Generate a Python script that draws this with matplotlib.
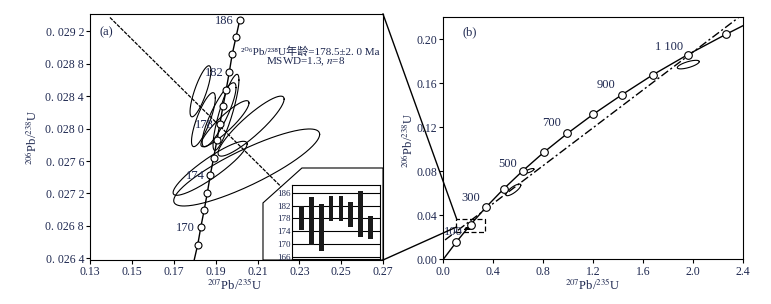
import numpy as np
import matplotlib
matplotlib.use("Agg")
from matplotlib import pyplot as plt
from matplotlib.patches import Polygon, Rectangle
from matplotlib.lines import Line2D

plt.rcParams['font.family'] = ['Liberation Serif', 'DejaVu Serif', 'Noto Sans CJK SC']
plt.rcParams['mathtext.fontset'] = 'stix'
TXT = '#1e2850'

# (a) concordia marks, 4/3 Ma apart
conc_a_x = [0.1814, 0.1829, 0.1845, 0.1860, 0.1874, 0.1890, 0.1906,
            0.1920, 0.1935, 0.1950, 0.1965, 0.1979, 0.1997, 0.2015]
conc_a_y = [0.02657, 0.02679, 0.02700, 0.02721, 0.02743, 0.02764, 0.02786,
            0.02806, 0.02828, 0.02848, 0.02870, 0.02892, 0.02913, 0.02934]
conc_a_start = [0.1797, 0.02638]
age_a_idx = [1, 4, 7, 10, 13]
age_a_txt = ['170', '174', '178', '182', '186']

# (a) analyses: ratio centres, half extents, correlation
ell_x = [0.1827, 0.1841, 0.1949, 0.1916, 0.1944, 0.2069, 0.1873, 0.2048]
ell_y = [0.02846, 0.02811, 0.02820, 0.02817, 0.02806, 0.02803, 0.02751, 0.02752]
ell_sx = [0.0050, 0.0057, 0.0062, 0.0081, 0.0115, 0.0158, 0.0177, 0.0349]
ell_sy = [0.000315, 0.000333, 0.000469, 0.000395, 0.000284, 0.000370, 0.000333, 0.000475]
ell_rho = [0.80, 0.80, 0.85, 0.85, 0.90, 0.90, 0.90, 0.86]

# discordia in (a)
disc_a_x = [0.1394, 0.2300]
disc_a_y = [0.02937, 0.02706]

# inset: 206Pb/238U ages (Ma)
bar_lo = [174.4, 169.9, 168.0, 177.3, 177.3, 175.4, 172.2, 171.5]
bar_hi = [182.0, 184.6, 182.5, 185.1, 185.1, 183.1, 186.6, 178.8]
inset_ticks = [166, 170, 174, 178, 182, 186]

a_xticks = [0.13, 0.15, 0.17, 0.19, 0.21, 0.23, 0.25, 0.27]
a_yticks = [0.0264, 0.0268, 0.0272, 0.0276, 0.0280, 0.0284, 0.0288, 0.0292]
a_ylabels = ['0. 026 4', '0. 026 8', '0. 027 2', '0. 027 6',
             '0. 028 0', '0. 028 4', '0. 028 8', '0. 029 2']

# (b) concordia 100..1200 Ma
conc_b_x = [0.1035, 0.2177, 0.3437, 0.4828, 0.6362, 0.8056,
            0.9925, 1.1988, 1.4264, 1.6776, 1.9548, 2.2608]
conc_b_y = [0.0156, 0.0315, 0.0476, 0.0640, 0.0805, 0.0974,
            0.1144, 0.1318, 0.1494, 0.1678, 0.1860, 0.2045]
conc_b_ends = [[0.0, 0.0], [2.4, 0.2125]]
age_b_idx = [0, 2, 4, 6, 8, 10]
age_b_txt = ['100', '300', '500', '700', '900', '1 100']

# other grains in (b)
bell_x = [0.56, 0.69, 1.96]
bell_y = [0.0631, 0.0805, 0.1770]
bell_sx = [0.060, 0.035, 0.088]
bell_sy = [0.0053, 0.0020, 0.0039]
bell_rho = [0.80, 0.70, 0.70]

disc_b_x = [0.014, 2.36]
disc_b_y = [0.0176, 0.2196]

b_xticks = [0.0, 0.4, 0.8, 1.2, 1.6, 2.0, 2.4]
b_yticks = [0.00, 0.04, 0.08, 0.12, 0.16, 0.20]


def ellipse(ax, x, y, sx, sy, rho, **kw):
    t = np.linspace(0, 2 * np.pi, 200)
    ex = x + sx * np.cos(t)
    ey = y + sy * (rho * np.cos(t) + np.sqrt(1 - rho ** 2) * np.sin(t))
    ax.plot(ex, ey, color='k', lw=0.8, **kw)


W, H = 771, 304
fig = plt.figure(figsize=(W / 100, H / 100), dpi=100)


def box(l, t, r, b):
    return [l / W, 1 - b / H, (r - l) / W, (b - t) / H]


# ---------- panel (a)
ax = fig.add_axes(box(90.3, 14, 383, 260))
ax.set_xlim(0.13, 0.27)
ax.set_ylim(0.026379, 0.029413)

for i in range(len(ell_x)):
    ellipse(ax, ell_x[i], ell_y[i], ell_sx[i], ell_sy[i], ell_rho[i], zorder=2)

ax.plot(disc_a_x, disc_a_y, color='k', lw=0.9, dashes=(3, 1), zorder=2)
ax.plot([conc_a_start[0]] + conc_a_x, [conc_a_start[1]] + conc_a_y, color='k', lw=1.0, zorder=3)
ax.plot(conc_a_x, conc_a_y, 'o', ms=5, mfc='white', mec='k', mew=0.8, zorder=4)
for i, s in zip(age_a_idx, age_a_txt):
    ax.annotate(s, (conc_a_x[i], conc_a_y[i]), xytext=(-6, -1), textcoords='offset pixels',
                ha='right', va='center', fontsize=9, color=TXT, zorder=4)

callout = Polygon([(0.590, 0), (0.590, 0.232), (0.723, 0.374), (1.0, 0.374), (1.0, 0)],
                  closed=True, transform=ax.transAxes, fc='white', ec='k', lw=0.8, zorder=5)
ax.add_patch(callout)

ax.text(0.033, 0.927, '(a)', transform=ax.transAxes, fontsize=9, color=TXT, va='center')
ax.text(0.751, 0.846, '²⁰⁶Pb/²³⁸U年龄=178.5±2. 0 Ma', transform=ax.transAxes,
        ha='center', va='center', fontsize=8, color=TXT)
ax.text(0.737, 0.804, 'MSWD=1.3, $n$=8', transform=ax.transAxes,
        ha='center', va='center', fontsize=8, color=TXT)

ax.set_xticks(a_xticks)
ax.set_xticklabels(['%.2f' % v for v in a_xticks])
ax.set_yticks(a_yticks)
ax.set_yticklabels(a_ylabels)
ax.tick_params(direction='out', length=3, width=0.8, pad=1.5, labelsize=8.5, labelcolor=TXT)
ax.text(0.494, -0.10, r'$^{207}$Pb/$^{235}$U', transform=ax.transAxes,
        ha='center', va='center', fontsize=9, color=TXT)
ax.text(-0.199, 0.50, r'$^{206}$Pb/$^{238}$U', transform=ax.transAxes, rotation=90,
        ha='center', va='center', fontsize=9, color=TXT)
for sp in ax.spines.values():
    sp.set_linewidth(0.8)

# ---------- inset
ins = fig.add_axes(box(292, 185, 380, 259))
ins.set_zorder(6)
ins.set_xlim(0, 9)
ins.set_ylim(165.4, 188.4)
for v in inset_ticks:
    ins.axhline(v, color='k', lw=0.8, zorder=1)
pos = np.arange(1, len(bar_lo) + 1)
ins.bar(pos, np.array(bar_hi) - np.array(bar_lo), bottom=bar_lo, width=0.48,
        color='#1a1a1a', zorder=2)
ins.set_xticks([])
ins.set_yticks(inset_ticks)
ins.set_yticklabels([str(v) for v in inset_ticks])
ins.tick_params(axis='y', length=0, pad=1, labelsize=6.5, labelcolor=TXT)
for sp in ins.spines.values():
    sp.set_linewidth(0.8)

# ---------- panel (b)
bx = fig.add_axes(box(443.3, 17.3, 743.3, 259.3))
bx.set_xlim(0, 2.4)
bx.set_ylim(0, 0.22)

lx = [conc_b_ends[0][0]] + conc_b_x + [conc_b_ends[1][0]]
ly = [conc_b_ends[0][1]] + conc_b_y + [conc_b_ends[1][1]]
bx.plot(lx, ly, color='k', lw=1.0, zorder=3)
bx.plot(disc_b_x, disc_b_y, color='k', lw=1.0, dashes=(6, 2, 1.5, 2), zorder=2)
for i in range(len(bell_x)):
    ellipse(bx, bell_x[i], bell_y[i], bell_sx[i], bell_sy[i], bell_rho[i], zorder=2)
for i in range(len(ell_x)):
    ellipse(bx, ell_x[i], ell_y[i], ell_sx[i], ell_sy[i], ell_rho[i], zorder=2)
bx.plot(conc_b_x, conc_b_y, 'o', ms=5.5, mfc='white', mec='k', mew=0.8, zorder=4)
offs = [(6, 4), (-6, 3), (-6, 1), (-6, 4), (-6, 4), (-5, 2)]
for (i, s), o in zip(zip(age_b_idx, age_b_txt), offs):
    bx.annotate(s, (conc_b_x[i], conc_b_y[i]), xytext=o, textcoords='offset pixels',
                ha='right', va='bottom', fontsize=9, color=TXT, zorder=5)

bx.add_patch(Rectangle((0.10, 0.0251), 0.234, 0.0113, fill=False, ec='k', lw=0.9,
                       ls=(0, (4, 2)), zorder=3))

bx.text(0.065, 0.938, '(b)', transform=bx.transAxes, fontsize=9, color=TXT, va='center')
bx.set_xticks(b_xticks)
bx.set_xticklabels(['%.1f' % v for v in b_xticks])
bx.set_yticks(b_yticks)
bx.set_yticklabels(['%.2f' % v for v in b_yticks])
bx.tick_params(direction='out', length=3, width=0.8, pad=1.5, labelsize=8.5, labelcolor=TXT)
bx.text(0.499, -0.106, r'$^{207}$Pb/$^{235}$U', transform=bx.transAxes,
        ha='center', va='center', fontsize=9, color=TXT)
bx.text(-0.118, 0.49, r'$^{206}$Pb/$^{238}$U', transform=bx.transAxes, rotation=90,
        ha='center', va='center', fontsize=9, color=TXT)
for sp in bx.spines.values():
    sp.set_linewidth(0.8)

# zoom connectors from (a) to the dashed box in (b)
for p0, p1 in [((383, 14), (456.5, 218.5)), ((383, 260), (456.5, 227))]:
    fig.add_artist(Line2D([p0[0] / W, p1[0] / W], [1 - p0[1] / H, 1 - p1[1] / H],
                          transform=fig.transFigure, color='k', lw=1.0))

fig.savefig('out.png', dpi=100)
